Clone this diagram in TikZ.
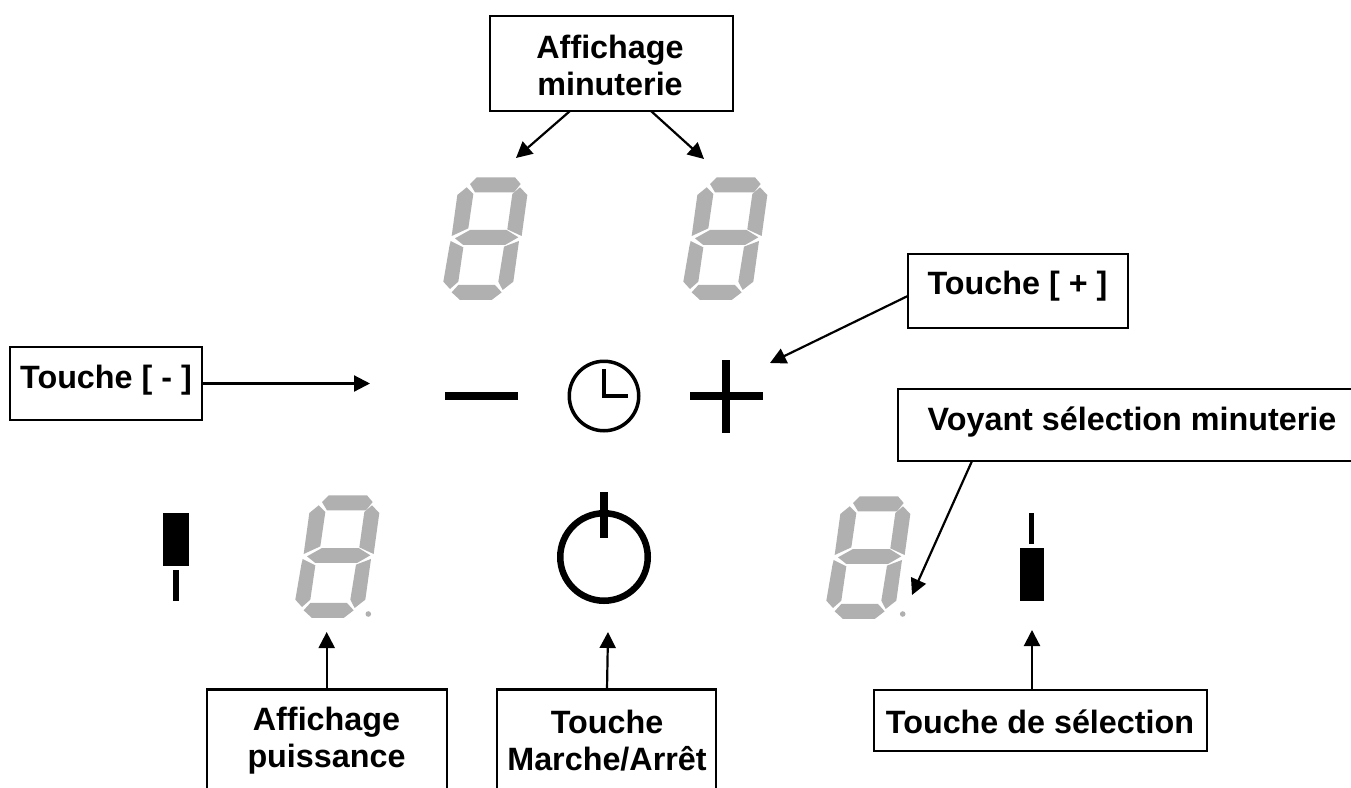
\documentclass[tikz,border=0pt]{standalone}
\usepackage{fontspec}
\setmainfont{Liberation Sans}
\usetikzlibrary{arrows.meta}
\tikzset{
  x=1pt,y=-1pt,
  callout/.style={draw=black,line width=2.4pt,fill=white,inner sep=0pt,outer sep=0pt},
  lab/.style={font=\bfseries\fontsize{32.3}{37}\selectfont,align=center,inner sep=0pt},
  conn/.style={draw=black,line width=2.2pt,-{Triangle[length=16pt,width=16pt]},shorten >=0pt},
  seg/.style={fill=segc,draw=none},
}
\definecolor{segc}{HTML}{B0B0B0}
\newcommand{\sevenseg}[2]{%
  \begin{scope}[shift={(#1,#2)},x=0.3333pt,y=-0.3333pt]
    \fill[seg] (150,72)--(170,52)--(285,52)--(302,72)--(282,97)--(165,97)--cycle;
    \fill[seg] (140,82)--(160,102)--(145,205)--(95,228)--(112,105)--cycle;
    \fill[seg] (300,82)--(322,105)--(305,228)--(262,208)--(277,102)--cycle;
    \fill[seg] (105,235)--(150,210)--(260,210)--(295,232)--(255,255)--(130,255)--cycle;
    \fill[seg] (92,243)--(130,262)--(115,365)--(90,387)--(70,365)--(88,260)--cycle;
    \fill[seg] (297,243)--(280,365)--(248,390)--(235,365)--(252,260)--cycle;
    \fill[seg] (115,375)--(225,375)--(245,397)--(215,420)--(120,420)--(95,397)--cycle;
  \end{scope}}
\begin{document}
\begin{tikzpicture}
\useasboundingbox (0,0) rectangle (1351,787);
\clip (0,0) rectangle (1351,787);
\fill[white] (0,0) rectangle (1351,787);
% boxes
\node[callout,minimum width=243pt,minimum height=95pt] (bm) at (611.5,63.5) {};
\node[callout,minimum width=220.5pt,minimum height=74pt] (bp) at (1018,291) {};
\node[callout,minimum width=192.5pt,minimum height=72.5pt] (bn) at (106,383.5) {};
\node[callout,minimum width=500pt,minimum height=72pt] (bv) at (1148,425) {};
\node[callout,minimum width=240.5pt,minimum height=130pt] (ba) at (327,754.5) {};
\node[callout,minimum width=218.5pt,minimum height=130pt] (bo) at (606.5,754.5) {};
\node[callout,minimum width=333pt,minimum height=61pt] (bs) at (1040.5,720.5) {};
% labels
\node[lab] (tm) at (610,65.5) {Affichage\\minuterie};
\node[lab] (tp) at (1017.5,286) {Touche [ + ]};
\node[lab] (tn) at (106,380) {Touche [ - ]};
\node[lab] (tv) at (1132,422) {Voyant sélection minuterie};
\node[lab] (ta) at (326.5,741) {Affichage\\puissance};
\node[lab] (to) at (607,741) {Touche\\Marche/Arrêt};
\node[lab] (ts) at (1040,722) {Touche de sélection};
% digits
\sevenseg{420}{160}
\sevenseg{660}{160}
\sevenseg{272}{478}
\sevenseg{803}{479}
\fill[segc] (368.3,614) circle (2.8);
\fill[segc] (902.7,614) circle (2.8);
% minus, clock, plus
\node[fill=black,minimum width=73pt,minimum height=8pt,inner sep=0pt] (minus) at (481.5,396) {};
\node[draw=black,line width=3.5pt,circle,minimum size=69.5pt,inner sep=0pt] (clock) at (604,396) {};
\draw[line width=4.5pt,line cap=butt] (604,369) -- (604,398.2) (601.8,396) -- (628,396);
\node[fill=black,minimum width=73pt,minimum height=8pt,inner sep=0pt] (plush) at (726,396) {};
\node[fill=black,minimum width=7.5pt,minimum height=73pt,inner sep=0pt] (plusv) at (726,396.5) {};
% power
\node[draw=black,line width=6.5pt,circle,minimum size=87.5pt,inner sep=0pt] (pow) at (604,557) {};
\node[fill=black,minimum width=7.5pt,minimum height=46pt,inner sep=0pt] (powbar) at (604,515) {};
% indicators
\node[fill=black,minimum width=26pt,minimum height=53pt,inner sep=0pt] (ledl) at (176,539.5) {};
\node[fill=black,minimum width=5.5pt,minimum height=31pt,inner sep=0pt] (barl) at (176,585.5) {};
\node[fill=black,minimum width=24.5pt,minimum height=53pt,inner sep=0pt] (ledr) at (1032,574.5) {};
\node[fill=black,minimum width=5pt,minimum height=31pt,inner sep=0pt] (barr) at (1031.5,528.5) {};
% connector ends
\coordinate (e1) at (516,158);
\coordinate (e2) at (704,159);
\coordinate (e3) at (770,363);
\coordinate (e4) at (370,383.5);
\coordinate (e5) at (912,595);
\coordinate (e6) at (326.7,632);
\coordinate (e7) at (608,632);
\coordinate (e8) at (1032,630);
\draw[conn] ([xshift=-41.5pt]bm.south) -- (e1);
\draw[conn] ([xshift=39.5pt]bm.south) -- (e2);
\draw[conn] ([yshift=-5pt]bp.west) -- (e3);
\draw[conn] (bn.east) -- (e4);
\draw[conn] ([xshift=-176pt]bv.south) -- (e5);
\draw[conn] ([xshift=-0.3pt]ba.north) -- (e6);
\draw[conn] ([xshift=0.5pt]bo.north) -- (e7);
\draw[conn] ([xshift=-8.5pt]bs.north) -- (e8);
\end{tikzpicture}
\end{document}
